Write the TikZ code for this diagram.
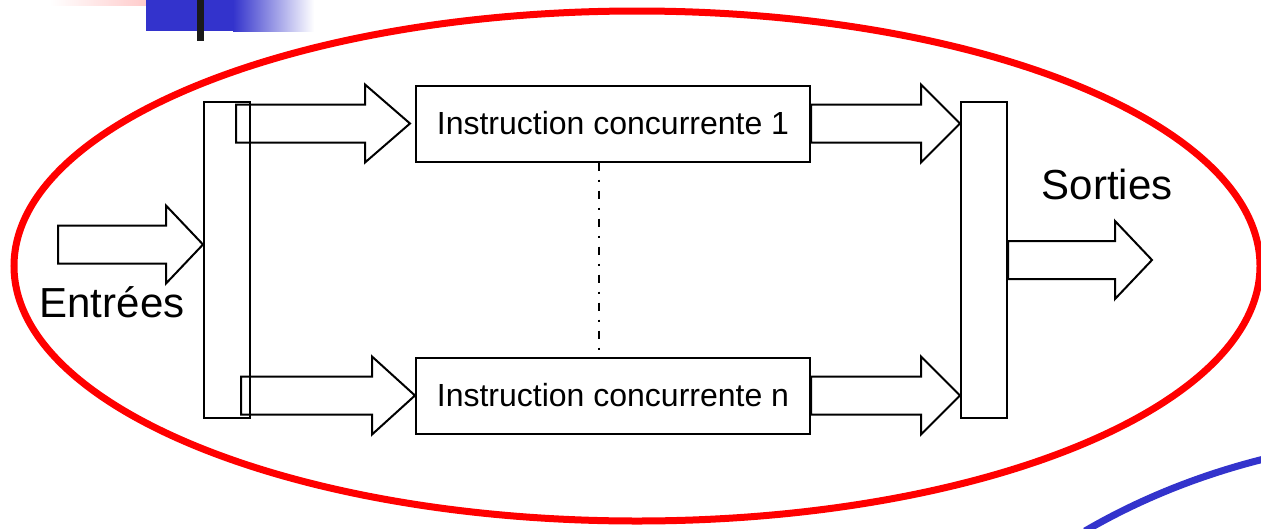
\documentclass[tikz,border=0pt]{standalone}
\usepackage{fontspec}
\setmainfont{Liberation Sans}
\usepackage{tikz}
\usetikzlibrary{positioning, calc}
\definecolor{ovalred}{RGB}{255,0,0}
\definecolor{slideblue}{RGB}{51,51,204}
\definecolor{slidepink}{RGB}{255,185,185}
\definecolor{barblack}{RGB}{26,26,26}

% block arrow: tail, tip, head length
\newcommand\fatarrow[3]{%
  \draw[fatline] let \p1=#1, \p2=#2 in
    (\x1,\y2+19pt) -- (\x2-#3pt,\y2+19pt) -- (\x2-#3pt,\y2+39pt) -- (\x2,\y2)
    -- (\x2-#3pt,\y2-39pt) -- (\x2-#3pt,\y2-19pt) -- (\x1,\y2-19pt) -- cycle;}

\begin{document}
\begin{tikzpicture}[x=1pt, y=-1pt,
    fatline/.style={draw=black, line width=2pt, line join=miter},
    instbox/.style={draw=black, line width=2pt, minimum width=394pt, minimum height=76pt,
      inner sep=0pt, font=\fontsize{32}{38}\selectfont},
    busbar/.style={draw=black, line width=2pt, minimum width=46pt, minimum height=316pt, inner sep=0pt},
    biglabel/.style={font=\fontsize{42}{50}\selectfont, inner sep=0pt}]
  \useasboundingbox (0,0) rectangle (1261,528);

  % Slide decoration
  \shade[left color=white, right color=slidepink] (50,0) rectangle (181,5);
  \fill[slideblue] (146,0) rectangle (234,31);
  \shade[left color=slideblue, right color=white] (233,0) rectangle (314,31);
  \fill[barblack] (197,0) rectangle (204,41);
  \draw[slideblue, line width=7pt] (1085,531) .. controls (1140,499) and (1200,475) .. (1264,459);

  % Red oval
  \draw[ovalred, line width=7pt] (637,266) ellipse [x radius=623, y radius=255];

  % Bars and instruction boxes
  \node[busbar] (lbar) at (227,260) {};
  \node[busbar] (rbar) at (984,260) {};
  \node[instbox] (box1) at (613,123.5) {\raisebox{-3pt}{Instruction concurrente 1}};
  \node[instbox] (boxn) at (613,395.5) {\raisebox{-3pt}{Instruction concurrente n}};

  % Dash-dot link
  \coordinate (dd) at (599,0);
  \draw[line width=2.5pt, dash pattern=on 8pt off 9pt on 2pt off 9pt] (box1.south -| dd) -- (boxn.north -| dd);

  % Arrows
  \coordinate (intail) at (58,244.5);
  \coordinate (outtip) at (1152,260);
  \fatarrow{(intail)}{(intail -| lbar.west)}{37}
  \fatarrow{($(lbar.east)+(-15,0)$)}{($(box1.west)+(-5,0)$)}{45}
  \fatarrow{($(lbar.east)+(-10,0)$)}{(boxn.west)}{43}
  \fatarrow{(box1.east)}{(box1.east -| rbar.west)}{39}
  \fatarrow{(boxn.east)}{(boxn.east -| rbar.west)}{39}
  \fatarrow{(rbar.east)}{(outtip)}{37}

  % Labels
  \node[biglabel] (entrees) at (112,302) {Entrées};
  \node[biglabel] (sorties) at (1107,184) {Sorties};
\end{tikzpicture}
\end{document}
